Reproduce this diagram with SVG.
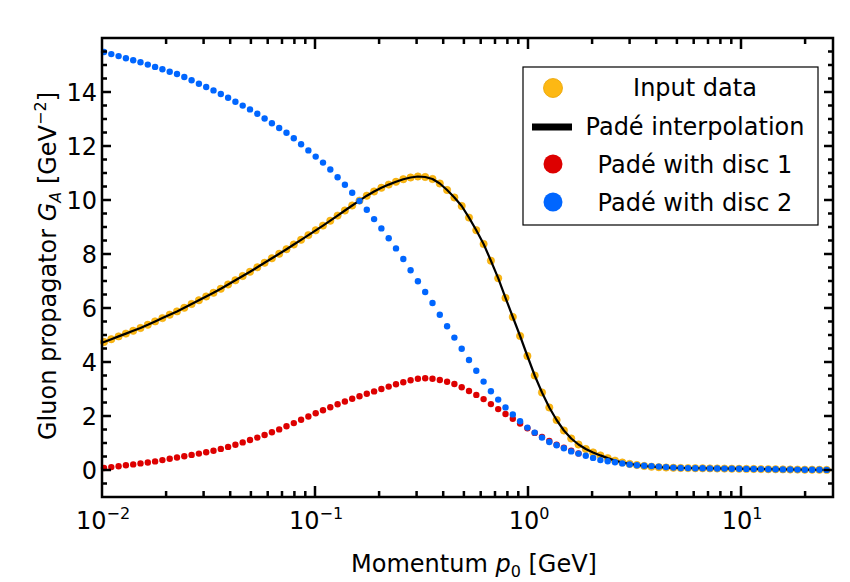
<svg xmlns="http://www.w3.org/2000/svg" width="850" height="582" viewBox="0 0 850 582">
<style>
text{font-family:"DejaVu Sans","Liberation Sans",sans-serif;fill:#000}
.tl{font-size:24px}
.ax{fill:none;stroke:#000;stroke-width:2.5}
.tk{stroke:#000;stroke-width:2.5}
.lg{font-size:24px;text-anchor:middle}
</style>
<defs>
<marker id="mo" markerUnits="userSpaceOnUse" markerWidth="10" markerHeight="10" refX="5" refY="5" overflow="visible"><circle cx="5" cy="5" r="3.7" fill="#FDB813" stroke="#E8A200" stroke-width="0.5"/></marker>
<marker id="mr" markerUnits="userSpaceOnUse" markerWidth="10" markerHeight="10" refX="5" refY="5" overflow="visible"><circle cx="5" cy="5" r="3.2" fill="#DD0000"/></marker>
<marker id="mb" markerUnits="userSpaceOnUse" markerWidth="10" markerHeight="10" refX="5" refY="5" overflow="visible"><circle cx="5" cy="5" r="3.2" fill="#0066FF"/></marker>
</defs>
<rect width="850" height="582" fill="#fff"/>
<g id="connectors">
<polyline id="orange" fill="none" stroke="none" marker-start="url(#mo)" marker-mid="url(#mo)" marker-end="url(#mo)" points="104,342 111.3,339.2 118.6,336.4 125.9,333.6 133.2,330.8 140.5,328 147.8,324.8 155.1,321.4 162.4,318.1 169.7,314.7 177,311.4 184.3,307.8 191.6,304 198.9,300.3 206.2,296.5 213.5,292.8 220.8,288.8 228.1,284.5 235.4,280.3 242.7,276 250,271.8 257.3,267.3 264.6,262.8 271.9,258.3 279.2,253.8 286.5,249.2 293.8,244.5 301.1,239.8 308.4,235.1 315.7,230.3 323,225.6 330.3,220.7 337.6,215.6 344.9,210.5 352.2,205.5 359.5,200.6 366.8,195.7 374.1,191.5 381.4,187.8 388.7,184.6 396,181.8 403.3,179.2 410.6,177.5 417.9,176.5 425.2,177 432.5,179 439.8,183.5 447.1,190 454.4,197.5 461.7,206 469,217.6 476.3,230.2 483.6,244 490.9,260.7 498.2,278.2 505.5,297.9 512.8,317 520.1,336 527.4,356 534.7,375.5 542,392.5 549.3,407.5 556.6,420 563.9,430.5 571.2,438.5 578.5,444.5 585.8,449 593.1,452.4 600.4,455.4 607.7,458.1 615,460.6 622.3,462.5 629.6,463.9 636.9,465 644.2,466 651.5,466.7 658.8,467.2 666.1,467.5 673.4,467.8 680.7,468 688,468.1 695.3,468.2 702.6,468.3 709.9,468.4 717.2,468.5 724.5,468.6 731.8,468.7 739.1,468.8 746.4,468.9 753.7,469 761,469.1 768.3,469.2 775.6,469.3 782.9,469.4 790.2,469.5 797.5,469.6 804.8,469.7 812.1,469.7 819.4,469.8 826.7,469.9"/>
<polyline id="pade" fill="none" stroke="#000" stroke-width="2.2" stroke-linejoin="round" points="102,342.8 104,342 111.3,339.2 118.6,336.4 125.9,333.6 133.2,330.8 140.5,328 147.8,324.8 155.1,321.4 162.4,318.1 169.7,314.7 177,311.4 184.3,307.8 191.6,304 198.9,300.3 206.2,296.5 213.5,292.8 220.8,288.8 228.1,284.5 235.4,280.3 242.7,276 250,271.8 257.3,267.3 264.6,262.8 271.9,258.3 279.2,253.8 286.5,249.2 293.8,244.5 301.1,239.8 308.4,235.1 315.7,230.3 323,225.6 330.3,220.7 337.6,215.6 344.9,210.5 352.2,205.5 359.5,200.6 366.8,195.7 374.1,191.5 381.4,187.8 388.7,184.6 396,181.8 403.3,179.2 410.6,177.5 417.9,176.5 425.2,177 432.5,179 439.8,183.5 447.1,190 454.4,197.5 461.7,206 469,217.6 476.3,230.2 483.6,244 490.9,260.7 498.2,278.2 505.5,297.9 512.8,317 520.1,336 527.4,356 534.7,375.5 542,392.5 549.3,407.5 556.6,420 563.9,430.5 571.2,438.5 578.5,444.5 585.8,449 593.1,452.4 600.4,455.4 607.7,458.1 615,460.6 622.3,462.5 629.6,463.9 636.9,465 644.2,466 651.5,466.7 658.8,467.2 666.1,467.5 673.4,467.8 680.7,468 731.8,468.7 782.9,469.4 833,470"/>
<polyline id="red" fill="none" stroke="none" marker-start="url(#mr)" marker-mid="url(#mr)" marker-end="url(#mr)" points="104,468 111.3,467.1 118.6,466.2 125.9,465.3 133.2,464.4 140.5,463.4 147.8,462.5 155.1,461.4 162.4,460.1 169.7,458.8 177,457.5 184.3,456.2 191.6,454.9 198.9,453.6 206.2,452.2 213.5,450.7 220.8,448.9 228.1,446.9 235.4,444.7 242.7,442.4 250,440 257.3,437.6 264.6,435 271.9,432.3 279.2,429.4 286.5,426.3 293.8,423.1 301.1,419.8 308.4,416.5 315.7,413.3 323,410.2 330.3,407.2 337.6,404.3 344.9,401.5 352.2,398.8 359.5,396.2 366.8,393.8 374.1,391.4 381.4,389 388.7,386.6 396,384.2 403.3,382.2 410.6,380.3 417.9,378.8 425.2,378.3 432.5,378.8 439.8,380 447.1,381.8 454.4,384 461.7,387.2 469,391 476.3,394.9 483.6,399.1 490.9,404.1 498.2,409.1 505.5,414 512.8,418.8 520.1,423.5 527.4,428.3 534.7,432.9 542,436.9 549.3,440.9 556.6,444.7 563.9,447.6 571.2,450.6 578.5,453.4"/>
<polyline id="blue" fill="none" stroke="none" marker-start="url(#mb)" marker-mid="url(#mb)" marker-end="url(#mb)" points="104,52 111.3,54.1 118.6,56.1 125.9,58.2 133.2,60.2 140.5,62.3 147.8,64.6 155.1,66.9 162.4,69.3 169.7,71.7 177,74 184.3,77 191.6,80.3 198.9,83.7 206.2,87 213.5,90.4 220.8,94 228.1,97.8 235.4,101.7 242.7,105.6 250,109.4 257.3,113.8 264.6,118.5 271.9,123.3 279.2,128 286.5,132.7 293.8,138.2 301.1,144.3 308.4,150.4 315.7,156.6 323,162.6 330.3,169.5 337.6,177.2 344.9,184.8 352.2,192.7 359.5,201 366.8,209.8 374.1,219.1 381.4,228.4 388.7,238.2 396,248.4 403.3,259 410.6,270.2 417.9,281.3 425.2,292 432.5,303 439.8,314.7 447.1,326.3 454.4,337.6 461.7,348.8 469,360 476.3,370.8 483.6,381.6 490.9,391.3 498.2,399.6 505.5,407.4 512.8,414.4 520.1,421.3 527.4,427.6 534.7,432.6 542,437.6 549.3,442 556.6,445.2 563.9,448.3 571.2,451.4 578.5,453.6 585.8,455.7 593.1,457.9 600.4,460.1 607.7,461.2 615,462.3 622.3,463.4 629.6,464.5 636.9,465.2 644.2,465.7 651.5,466.1 658.8,466.6 666.1,467.1 673.4,467.6 680.7,468 688,468.1 695.3,468.2 702.6,468.3 709.9,468.4 717.2,468.5 724.5,468.6 731.8,468.7 739.1,468.8 746.4,468.9 753.7,469 761,469.1 768.3,469.2 775.6,469.3 782.9,469.4 790.2,469.5 797.5,469.6 804.8,469.7 812.1,469.7 819.4,469.8 826.7,469.9"/>
</g>
<g id="axes">
<rect class="ax" x="102" y="38" width="731" height="459"/>
<path class="tk" d="M102,470h9M102,416h9M102,362h9M102,308h9M102,254h9M102,200h9M102,146h9M102,92h9M833,470h-9M833,416h-9M833,362h-9M833,308h-9M833,254h-9M833,200h-9M833,146h-9M833,92h-9
M102,483.5h5M102,456.5h5M102,443h5M102,429.5h5M102,402.5h5M102,389h5M102,375.5h5M102,348.5h5M102,335h5M102,321.5h5M102,294.5h5M102,281h5M102,267.5h5M102,240.5h5M102,227h5M102,213.5h5M102,186.5h5M102,173h5M102,159.5h5M102,132.5h5M102,119h5M102,105.5h5M102,78.5h5M102,65h5M102,51.5h5
M833,483.5h-5M833,456.5h-5M833,443h-5M833,429.5h-5M833,402.5h-5M833,389h-5M833,375.5h-5M833,348.5h-5M833,335h-5M833,321.5h-5M833,294.5h-5M833,281h-5M833,267.5h-5M833,240.5h-5M833,227h-5M833,213.5h-5M833,186.5h-5M833,173h-5M833,159.5h-5M833,132.5h-5M833,119h-5M833,105.5h-5M833,78.5h-5M833,65h-5M833,51.5h-5
M315,497v-11M528,497v-11M741,497v-11M315,38v11M528,38v11M741,38v11
M166.1,497v-6M203.6,497v-6M230.2,497v-6M250.9,497v-6M267.7,497v-6M282,497v-6M294.4,497v-6M305.3,497v-6
M379.1,497v-6M416.6,497v-6M443.2,497v-6M463.9,497v-6M480.7,497v-6M495,497v-6M507.4,497v-6M518.3,497v-6
M592.1,497v-6M629.6,497v-6M656.2,497v-6M676.9,497v-6M693.7,497v-6M708,497v-6M720.4,497v-6M731.3,497v-6
M805.1,497v-6
M166.1,38v6M203.6,38v6M230.2,38v6M250.9,38v6M267.7,38v6M282,38v6M294.4,38v6M305.3,38v6
M379.1,38v6M416.6,38v6M443.2,38v6M463.9,38v6M480.7,38v6M495,38v6M507.4,38v6M518.3,38v6
M592.1,38v6M629.6,38v6M656.2,38v6M676.9,38v6M693.7,38v6M708,38v6M720.4,38v6M731.3,38v6
M805.1,38v6"/>
<g class="tl" text-anchor="end">
<text x="97" y="479">0</text><text x="97" y="425">2</text><text x="97" y="371">4</text><text x="97" y="317">6</text><text x="97" y="263">8</text><text x="97" y="209">10</text><text x="97" y="155">12</text><text x="97" y="101">14</text>
</g>
<g class="tl" text-anchor="middle">
<text x="103" y="529">10<tspan font-size="16" dy="-10">−2</tspan></text>
<text x="316" y="529">10<tspan font-size="16" dy="-10">−1</tspan></text>
<text x="529" y="529">10<tspan font-size="16" dy="-10">0</tspan></text>
<text x="742" y="529">10<tspan font-size="16" dy="-10">1</tspan></text>
</g>
<text class="tl" x="474" y="572" text-anchor="middle">Momentum <tspan font-style="italic">p</tspan><tspan font-size="16" dy="5">0</tspan><tspan dy="-5"> [GeV]</tspan></text>
<text class="tl" transform="translate(56,266) rotate(-90)" text-anchor="middle">Gluon propagator <tspan font-style="italic">G</tspan><tspan font-size="16" font-style="italic" dy="5">A</tspan><tspan dy="-5"> [GeV</tspan><tspan font-size="16" dy="-10">−2</tspan><tspan dy="10">]</tspan></text>
</g>
<g id="legend">
<rect x="523" y="67" width="295" height="158" fill="#fff" stroke="#000" stroke-width="1.2"/>
<circle cx="553" cy="88" r="9.5" fill="#FDB813" stroke="#E8A200" stroke-width="0.8"/>
<line x1="532" y1="127" x2="572" y2="127" stroke="#000" stroke-width="7"/>
<circle cx="553" cy="164" r="9.5" fill="#DD0000"/>
<circle cx="553" cy="202" r="9.5" fill="#0066FF"/>
<text class="lg" x="695" y="96">Input data</text>
<text class="lg" x="695" y="135">Padé interpolation</text>
<text class="lg" x="695" y="173">Padé with disc 1</text>
<text class="lg" x="695" y="211">Padé with disc 2</text>
</g>
</svg>
